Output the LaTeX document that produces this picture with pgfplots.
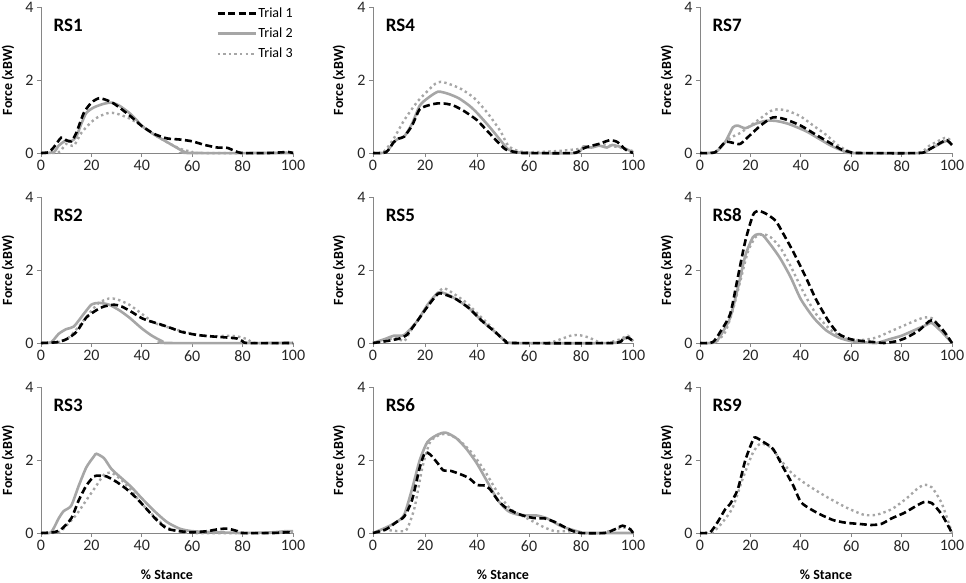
\documentclass[border=0pt]{standalone}
\usepackage{fontspec}
\setmainfont{Carlito}
\usepackage{pgfplots}
\pgfplotsset{compat=1.18}
\definecolor{tgray}{RGB}{166,166,166}
\definecolor{axgray}{RGB}{134,134,134}
\pgfplotsset{
 panel/.style={scale only axis, height=146pt, xmin=0,xmax=100,ymin=0,ymax=4,
  xtick={0,20,40,60,80,100}, ytick={0,2,4}, axis lines*=left,
  axis line style={axgray, line width=1pt}, tick style={axgray, line width=1pt},
  tick align=outside, major tick length=4pt, clip=false,
  tick label style={font=\fontsize{16}{18}\selectfont, text=black!85},
  /pgf/number format/assume math mode=true,
  ylabel={Force (xBW)},
  ylabel style={at={(axis description cs:-0.131,0.5)}, anchor=center, font=\bfseries\fontsize{14}{16}\selectfont},
  anchor=south west},
 bottomrow/.style={xlabel={\% Stance}, xlabel style={at={(axis description cs:0.5,-0.288)}, anchor=center, font=\bfseries\fontsize{14}{16}\selectfont}},
 t1/.style={black, line width=2.6pt, dash pattern=on 7pt off 3.5pt, smooth, tension=0.4, mark=none},
 t2/.style={tgray, line width=2.6pt, smooth, tension=0.4, mark=none},
 t3/.style={tgray, line width=2.4pt, dash pattern=on 2.4pt off 3.2pt, smooth, tension=0.4, mark=none},
}
\newcommand{\ptitle}[1]{\node[anchor=west, font=\bfseries\fontsize{19}{21}\selectfont] at (axis description cs:0.036,0.877) {#1};}
\begin{document}
\begin{tikzpicture}[x=1pt,y=1pt]
\path[use as bounding box] (0,0) rectangle (966,-582);
% ---------------- RS1
\begin{axis}[panel, width=252pt, at={(41pt,-153pt)},
  legend style={at={(axis description cs:0.683,1.02)}, anchor=north west, draw=none, fill=none,
   font=\fontsize{14}{16}\selectfont, nodes={inner sep=1.5pt, text height=10pt, text depth=2pt}, row sep=5pt},
  legend cell align=left, reverse legend,
  legend image code/.code={\draw[#1] (0pt,0pt) -- (38pt,0pt);}]
\addplot[t3] coordinates {(0,0)(7,0.02)(10,0.25)(13,0.2)(16,0.55)(20,0.85)(23,1.0)(27,1.1)(30,1.08)(35,0.95)(40,0.75)(45,0.5)(50,0.3)(55,0.12)(60,0.03)(62,0)(95,0)(98,0.03)(100,0)};
\addlegendentry{Trial 3}
\addplot[t2] coordinates {(0,0)(5,0.02)(7,0.2)(10,0.35)(12,0.32)(14,0.45)(16,0.8)(18,1.1)(21,1.25)(25,1.35)(28,1.38)(31,1.3)(35,1.1)(38,0.9)(40,0.74)(45,0.5)(50,0.3)(55,0.1)(57,0.03)(59,0)(100,0)};
\addlegendentry{Trial 2}
\addplot[t1] coordinates {(0,0)(3,0.02)(5,0.15)(8,0.42)(10,0.35)(12,0.32)(14,0.55)(17,1.1)(20,1.38)(23,1.5)(26,1.45)(29,1.35)(32,1.2)(36,0.98)(40,0.74)(45,0.52)(50,0.4)(55,0.37)(60,0.32)(65,0.22)(70,0.15)(74,0.14)(77,0.05)(80,0)(90,0)(96,0.02)(98,0.03)(100,0)};
\addlegendentry{Trial 1}
\ptitle{RS1}
\end{axis}
% ---------------- RS4
\begin{axis}[panel, width=260pt, at={(373pt,-153pt)}]
\addplot[t3] coordinates {(0,0)(4,0.02)(8,0.4)(12,0.9)(17,1.4)(21,1.7)(24,1.9)(26,1.95)(29,1.9)(34,1.75)(39,1.5)(44,1.1)(49,0.6)(52,0.2)(56,0.05)(60,0.02)(70,0.05)(78,0.1)(83,0.15)(87,0.25)(91,0.2)(95,0.15)(100,0.05)};
\addplot[t2] coordinates {(0,0)(5,0.02)(8,0.3)(10,0.4)(12,0.45)(15,0.8)(18,1.3)(21,1.5)(25,1.68)(29,1.62)(33,1.5)(37,1.3)(40,1.1)(45,0.7)(49,0.35)(52,0.1)(56,0.02)(60,0)(78,0)(81,0.18)(84,0.15)(87,0.2)(90,0.15)(92,0.22)(96,0.15)(100,0.02)};
\addplot[t1] coordinates {(0,0)(5,0.02)(8,0.3)(10,0.4)(12,0.45)(15,0.75)(18,1.2)(22,1.32)(25,1.36)(28,1.35)(31,1.3)(35,1.15)(40,0.9)(44,0.6)(48,0.3)(51,0.1)(55,0.02)(58,0)(77,0)(80,0.1)(83,0.18)(87,0.25)(91,0.35)(94,0.3)(97,0.1)(100,0)};
\ptitle{RS4}
\end{axis}
% ---------------- RS7
\begin{axis}[panel, width=252pt, at={(700pt,-153pt)}]
\addplot[t3] coordinates {(0,0)(6,0.02)(10,0.3)(13,0.45)(16,0.55)(20,0.75)(24,0.95)(28,1.15)(31,1.2)(35,1.15)(40,1.0)(45,0.75)(50,0.5)(55,0.2)(59,0.05)(62,0)(86,0)(91,0.2)(96,0.38)(98,0.42)(100,0.3)};
\addplot[t2] coordinates {(0,0)(6,0.02)(10,0.3)(13,0.7)(15,0.75)(18,0.68)(22,0.8)(26,0.88)(30,0.88)(35,0.8)(42,0.6)(47,0.4)(52,0.2)(57,0.05)(60,0)(87,0)(91,0.1)(96,0.28)(98,0.33)(100,0.22)};
\addplot[t1] coordinates {(0,0)(6,0.02)(10,0.3)(13,0.28)(16,0.25)(20,0.5)(24,0.75)(28,0.95)(30,0.98)(34,0.92)(40,0.75)(46,0.5)(51,0.3)(56,0.1)(60,0.02)(62,0)(87,0)(91,0.1)(96,0.3)(98,0.35)(100,0.22)};
\ptitle{RS7}
\end{axis}
% ---------------- RS2
\begin{axis}[panel, width=252pt, at={(41pt,-343pt)}]
\addplot[t3] coordinates {(0,0)(7,0.02)(11,0.15)(15,0.45)(19,0.8)(23,1.1)(27,1.22)(30,1.2)(35,1.05)(40,0.8)(45,0.55)(52,0.4)(60,0.25)(67,0.18)(74,0.2)(78,0.18)(82,0.1)(85,0)(100,0)};
\addplot[t2] coordinates {(0,0)(4,0.02)(7,0.25)(10,0.38)(13,0.45)(17,0.8)(20,1.05)(23,1.1)(27,1.05)(31,0.9)(35,0.7)(40,0.4)(44,0.2)(48,0.05)(50,0)(100,0)};
\addplot[t1] coordinates {(0,0)(6,0.02)(10,0.1)(14,0.3)(18,0.7)(22,0.9)(25,1.0)(29,1.05)(32,1.0)(36,0.85)(40,0.68)(44,0.58)(47,0.52)(52,0.4)(56,0.3)(62,0.22)(68,0.18)(74,0.15)(78,0.12)(80,0.05)(82,0)(100,0)};
\ptitle{RS2}
\end{axis}
% ---------------- RS5
\begin{axis}[panel, width=260pt, at={(373pt,-343pt)}]
\addplot[t3] coordinates {(0,0)(5,0.08)(9,0.15)(12,0.05)(15,0.4)(20,0.9)(24,1.3)(27,1.5)(30,1.4)(36,1.1)(41,0.75)(46,0.4)(50,0.1)(53,0)(67,0)(72,0.1)(76,0.2)(79,0.22)(83,0.15)(87,0.02)(90,0)(95,0.1)(98,0.2)(100,0.05)};
\addplot[t2] coordinates {(0,0)(5,0.12)(8,0.2)(12,0.22)(17,0.6)(21,1.05)(25,1.38)(28,1.35)(32,1.2)(37,0.95)(42,0.6)(47,0.3)(51,0.05)(54,0)(92,0)(96,0.1)(98,0.15)(100,0.05)};
\addplot[t1] coordinates {(0,0)(5,0.05)(10,0.12)(13,0.22)(17,0.6)(21,1.0)(25,1.35)(28,1.32)(32,1.2)(37,0.95)(42,0.6)(47,0.3)(51,0.05)(54,0)(92,0)(96,0.1)(98,0.15)(100,0.05)};
\ptitle{RS5}
\end{axis}
% ---------------- RS8
\begin{axis}[panel, width=252pt, at={(700pt,-343pt)}]
\addplot[t3] coordinates {(0,0)(6,0.02)(10,0.3)(13,0.9)(16,1.7)(19,2.5)(22,2.9)(25,2.98)(28,2.9)(32,2.6)(36,2.1)(41,1.4)(46,0.8)(52,0.35)(58,0.12)(64,0.08)(70,0.15)(75,0.3)(80,0.45)(85,0.6)(89,0.7)(92,0.68)(96,0.4)(100,0)};
\addplot[t2] coordinates {(0,0)(6,0.02)(9,0.3)(12,0.7)(15,1.5)(18,2.4)(21,2.9)(23,2.98)(25,2.95)(29,2.6)(32,2.3)(36,1.8)(40,1.2)(45,0.7)(50,0.35)(55,0.15)(60,0.05)(65,0.02)(70,0)(75,0.1)(80,0.2)(85,0.35)(90,0.5)(92,0.55)(96,0.3)(100,0)};
\addplot[t1] coordinates {(0,0)(5,0.02)(8,0.3)(12,0.8)(15,1.8)(18,2.8)(21,3.5)(23,3.62)(26,3.55)(30,3.35)(33,3.0)(37,2.5)(42,1.8)(46,1.2)(51,0.6)(55,0.25)(60,0.1)(65,0.05)(70,0.02)(73,0)(78,0.05)(82,0.15)(87,0.35)(91,0.6)(93,0.6)(97,0.3)(100,0)};
\ptitle{RS8}
\end{axis}
% ---------------- RS3
\begin{axis}[panel, bottomrow, width=252pt, at={(41pt,-533pt)}]
\addplot[t3] coordinates {(0,0)(7,0.02)(10,0.2)(14,0.5)(18,0.9)(22,1.3)(25,1.6)(28,1.65)(32,1.45)(36,1.15)(40,0.8)(45,0.45)(50,0.15)(55,0.05)(60,0)(92,0)(97,0.03)(100,0.02)};
\addplot[t2] coordinates {(0,0)(4,0.02)(7,0.4)(9,0.6)(12,0.75)(15,1.3)(18,1.8)(21,2.1)(22,2.17)(25,2.05)(28,1.75)(32,1.5)(36,1.25)(40,0.95)(45,0.6)(50,0.3)(55,0.12)(60,0.05)(70,0.02)(80,0)(92,0.02)(97,0.05)(100,0.05)};
\addplot[t1] coordinates {(0,0)(5,0.02)(8,0.1)(12,0.4)(15,0.9)(18,1.3)(21,1.55)(23,1.57)(26,1.55)(30,1.4)(34,1.2)(38,0.95)(42,0.65)(46,0.35)(50,0.12)(55,0.05)(60,0.02)(66,0.05)(70,0.1)(74,0.12)(78,0.05)(80,0)(92,0)(98,0.02)(100,0)};
\ptitle{RS3}
\end{axis}
% ---------------- RS6
\begin{axis}[panel, bottomrow, width=260pt, at={(373pt,-533pt)}]
\addplot[t3] coordinates {(0,0)(5,0.08)(10,0.05)(13,0.1)(16,0.7)(19,1.8)(22,2.5)(26,2.7)(29,2.7)(33,2.55)(38,2.2)(43,1.7)(48,1.1)(53,0.65)(58,0.45)(62,0.3)(66,0.15)(70,0.05)(75,0.05)(80,0)(88,0)(93,0.1)(97,0.15)(100,0.05)};
\addplot[t2] coordinates {(0,0)(5,0.15)(9,0.3)(12,0.5)(15,1.2)(18,2.0)(21,2.5)(25,2.7)(28,2.75)(32,2.6)(36,2.3)(40,1.9)(44,1.4)(48,0.9)(52,0.6)(56,0.5)(60,0.48)(63,0.48)(67,0.4)(72,0.2)(76,0.1)(80,0.02)(82,0)(100,0)};
\addplot[t1] coordinates {(0,0)(5,0.1)(9,0.3)(12,0.45)(15,0.9)(18,1.8)(20,2.2)(22,2.15)(25,1.9)(27,1.72)(30,1.7)(34,1.6)(37,1.5)(40,1.32)(43,1.3)(45,1.2)(48,0.9)(51,0.7)(55,0.55)(59,0.45)(63,0.4)(66,0.4)(70,0.3)(74,0.15)(77,0.05)(80,0)(89,0)(93,0.1)(96,0.2)(99,0.1)(100,0)};
\ptitle{RS6}
\end{axis}
% ---------------- RS9
\begin{axis}[panel, bottomrow, width=252pt, at={(700pt,-533pt)}]
\addplot[t3] coordinates {(0,0)(5,0.02)(9,0.3)(13,0.7)(17,1.5)(21,2.2)(24,2.45)(28,2.35)(32,2.0)(37,1.6)(43,1.3)(50,1.0)(58,0.7)(65,0.5)(70,0.5)(76,0.65)(82,0.95)(86,1.2)(89,1.32)(92,1.25)(96,0.8)(100,0)};
\addplot[t1] coordinates {(0,0)(4,0.02)(7,0.3)(10,0.65)(12,0.8)(15,1.2)(18,2.0)(21,2.55)(22,2.62)(25,2.5)(29,2.3)(33,1.8)(37,1.3)(40,0.85)(44,0.65)(48,0.5)(53,0.35)(58,0.28)(63,0.25)(68,0.22)(72,0.25)(76,0.4)(81,0.55)(86,0.75)(89,0.85)(92,0.82)(96,0.5)(100,0)};
\ptitle{RS9}
\end{axis}
\end{tikzpicture}
\end{document}
